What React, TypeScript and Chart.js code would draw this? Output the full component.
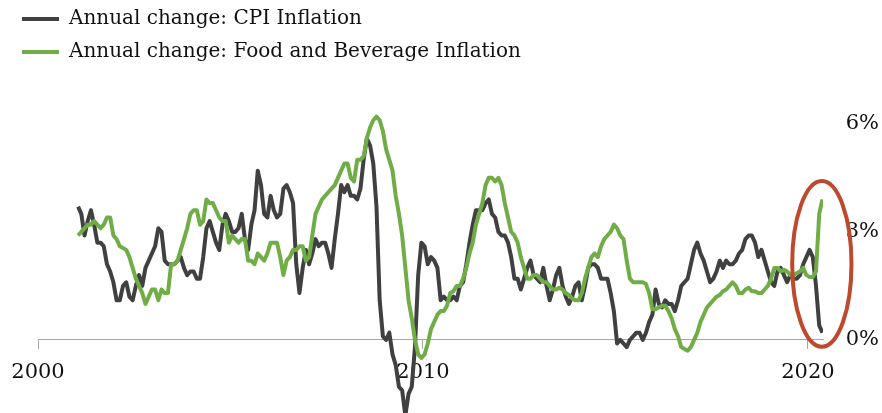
import { useEffect, useRef } from "react";
import { Chart, registerables } from "chart.js";

Chart.register(...registerables);

// Monthly series, Jan 2001 .. May 2020 (annual % change)
const START_YEAR = 2001;

const cpiInflation = [
  3.7, 3.5, 2.9, 3.3, 3.6, 3.2, 2.7, 2.7, 2.6, 2.1, 1.9, 1.6,
  1.1, 1.1, 1.5, 1.6, 1.2, 1.1, 1.5, 1.8, 1.5, 2.0, 2.2, 2.4,
  2.6, 3.1, 3.0, 2.2, 2.1, 2.1, 2.1, 2.2, 2.3, 2.0, 1.8, 1.9,
  1.9, 1.7, 1.7, 2.3, 3.1, 3.3, 3.0, 2.7, 2.5, 3.2, 3.5, 3.3,
  3.0, 3.0, 3.1, 3.5, 2.8, 2.5, 3.2, 3.6, 4.7, 4.3, 3.5, 3.4,
  4.0, 3.6, 3.4, 3.5, 4.2, 4.3, 4.1, 3.8, 2.1, 1.3, 2.0, 2.5,
  2.1, 2.4, 2.8, 2.6, 2.7, 2.7, 2.4, 2.0, 2.8, 3.5, 4.3, 4.1,
  4.3, 4.0, 4.0, 3.9, 4.2, 5.0, 5.6, 5.4, 4.9, 3.7, 1.1, 0.1,
  0.0, 0.2, -0.4, -0.7, -1.3, -1.4, -2.1, -1.5, -1.3, -0.2, 1.8, 2.7,
  2.6, 2.1, 2.3, 2.2, 2.0, 1.1, 1.2, 1.1, 1.1, 1.2, 1.1, 1.5,
  1.6, 2.1, 2.7, 3.2, 3.6, 3.6, 3.6, 3.8, 3.9, 3.5, 3.4, 3.0,
  2.9, 2.9, 2.7, 2.3, 1.7, 1.7, 1.4, 1.7, 2.0, 2.2, 1.8, 1.7,
  1.6, 2.0, 1.5, 1.1, 1.4, 1.8, 2.0, 1.5, 1.2, 1.0, 1.2, 1.5,
  1.6, 1.1, 1.5, 2.0, 2.1, 2.1, 2.0, 1.7, 1.7, 1.7, 1.3, 0.8,
  -0.1, 0.0, -0.1, -0.2, 0.0, 0.1, 0.2, 0.2, 0.0, 0.2, 0.5, 0.7,
  1.4, 1.0, 0.9, 1.1, 1.0, 1.0, 0.8, 1.1, 1.5, 1.6, 1.7, 2.1,
  2.5, 2.7, 2.4, 2.2, 1.9, 1.6, 1.7, 1.9, 2.2, 2.0, 2.2, 2.1,
  2.1, 2.2, 2.4, 2.5, 2.8, 2.9, 2.9, 2.7, 2.3, 2.5, 2.2, 1.9,
  1.6, 1.5, 1.9, 2.0, 1.8, 1.6, 1.8, 1.7, 1.7, 1.8, 2.1, 2.3,
  2.5, 2.3, 1.5, 0.4, 0.2,
];

const foodInflation = [
  2.9, 3.0, 3.1, 3.2, 3.2, 3.3, 3.2, 3.1, 3.2, 3.4, 3.4, 2.9,
  2.8, 2.6, 2.55, 2.5, 2.3, 2.0, 1.7, 1.5, 1.3, 1.0, 1.2, 1.4,
  1.4, 1.1, 1.4, 1.3, 1.3, 2.1, 2.1, 2.2, 2.5, 2.8, 3.1, 3.5,
  3.6, 3.6, 3.2, 3.3, 3.9, 3.8, 3.8, 3.6, 3.4, 3.3, 3.3, 2.7,
  2.9, 2.8, 2.7, 2.8, 2.8, 2.2, 2.2, 2.1, 2.4, 2.3, 2.2, 2.4,
  2.7, 2.7, 2.7, 2.3, 1.8, 2.2, 2.3, 2.5, 2.5, 2.6, 2.6, 2.2,
  2.3, 2.9, 3.5, 3.7, 3.9, 4.0, 4.1, 4.2, 4.3, 4.5, 4.7, 4.9,
  4.9, 4.5, 4.4, 5.0, 5.0, 5.1, 5.6, 5.9, 6.1, 6.2, 6.1, 5.8,
  5.3, 5.0, 4.7, 4.0, 3.5, 2.9, 2.0, 1.1, 0.6, 0.0, -0.4, -0.5,
  -0.4, -0.1, 0.3, 0.5, 0.7, 0.8, 0.8, 0.95, 1.3, 1.35, 1.5, 1.5,
  1.7, 2.0, 2.4, 2.7, 3.2, 3.5, 3.8, 4.3, 4.5, 4.5, 4.4, 4.5,
  4.3, 3.8, 3.4, 3.0, 2.9, 2.7, 2.3, 2.0, 1.7, 1.7, 1.8, 1.8,
  1.7, 1.6, 1.6, 1.5, 1.4, 1.4, 1.45, 1.4, 1.3, 1.25, 1.15, 1.1,
  1.1, 1.3, 1.7, 2.0, 2.3, 2.4, 2.3, 2.6, 2.8, 2.9, 3.0, 3.2,
  3.1, 2.9, 2.8, 2.2, 1.7, 1.6, 1.6, 1.6, 1.6, 1.55, 1.3, 0.85,
  0.85, 0.9, 0.95, 0.95, 0.8, 0.6, 0.3, 0.1, -0.2, -0.25, -0.3, -0.2,
  0.0, 0.2, 0.5, 0.7, 0.9, 1.0, 1.1, 1.2, 1.25, 1.35, 1.4, 1.5,
  1.6, 1.5, 1.3, 1.3, 1.4, 1.45, 1.35, 1.35, 1.3, 1.3, 1.4, 1.5,
  1.7, 2.0, 2.0, 1.9, 1.95, 1.9, 1.8, 1.8, 1.85, 1.9, 2.0, 1.8,
  1.75, 1.75, 1.9, 3.5, 3.9,
];

const seriesNames = [
  "Annual change: CPI Inflation",
  "Annual change: Food and Beverage Inflation",
];
const xTickYears = [2000, 2010, 2020];
const yTickValues = [0, 3, 6];

const X_MIN = 2000;
const X_MAX = 2020.39;
const Y_MIN = -2.03;
const Y_MAX = 7.44;

// highlight ellipse (data units)
const highlight = { x: 2020.36, y: 2.11, rx: 0.77, ry: 2.3 };

const FONT = "'DejaVu Serif', 'Liberation Serif', serif";

const toPoints = (vals: number[]) =>
  vals.map((v, i) => ({ x: START_YEAR + (i + 0.5) / 12, y: v }));

const ellipsePlugin = {
  id: "highlightEllipse",
  afterDatasetsDraw(chart: any) {
    const xs = chart.scales.x;
    const ys = chart.scales.y;
    const cx = xs.getPixelForValue(highlight.x);
    const cy = ys.getPixelForValue(highlight.y);
    const rx = Math.abs(xs.getPixelForValue(highlight.x + highlight.rx) - cx);
    const ry = Math.abs(ys.getPixelForValue(highlight.y + highlight.ry) - cy);
    const ctx = chart.ctx;
    ctx.save();
    ctx.beginPath();
    ctx.ellipse(cx, cy, rx, ry, 0, 0, Math.PI * 2);
    ctx.strokeStyle = "#BD4A2F";
    ctx.lineWidth = 4;
    ctx.stroke();
    ctx.restore();
  },
};

export default function App() {
  const canvasRef = useRef<HTMLCanvasElement | null>(null);

  useEffect(() => {
    document.body.style.margin = "0";
    const canvas = canvasRef.current;
    if (!canvas) return;
    const chart = new Chart(canvas, {
      type: "line",
      data: {
        datasets: [
          {
            label: seriesNames[0],
            data: toPoints(cpiInflation),
            borderColor: "#404040",
            backgroundColor: "#404040",
            borderWidth: 4,
            pointRadius: 0,
            tension: 0,
            fill: false,
            borderJoinStyle: "round",
            yAxisID: "y",
            order: 1,
          },
          {
            label: seriesNames[1],
            data: toPoints(foodInflation),
            borderColor: "#70AD47",
            backgroundColor: "#70AD47",
            borderWidth: 4,
            pointRadius: 0,
            tension: 0,
            fill: false,
            borderJoinStyle: "round",
            yAxisID: "y",
            order: 0,
          },
        ],
      },
      options: {
        responsive: false,
        animation: false,
        devicePixelRatio: 1,
        events: [],
        layout: { padding: { left: 9, right: 59, top: -4, bottom: 0 } },
        plugins: {
          tooltip: { enabled: false },
          legend: {
            position: "top",
            align: "start",
            labels: {
              font: { family: FONT, size: 20 },
              color: "#111",
              boxWidth: 37,
              boxHeight: 4,
              padding: 13,
              sort: (a: any, b: any) => a.datasetIndex - b.datasetIndex,
              generateLabels: (c: any) =>
                Chart.defaults.plugins.legend.labels
                  .generateLabels(c)
                  .map((l: any) => ({ ...l, fillStyle: l.strokeStyle, lineWidth: 0 })),
            },
          },
        },
        scales: {
          x: {
            type: "linear",
            min: X_MIN,
            max: X_MAX,
            position: { y: 0 },
            afterBuildTicks: (s: any) => {
              s.ticks = xTickYears.map((v) => ({ value: v }));
            },
            afterFit: (s: any) => {
              s.height = 0;
              s.paddingLeft = 0;
              s.paddingRight = 0;
              s.paddingTop = 0;
              s.paddingBottom = 0;
            },
            grid: {
              display: true,
              drawOnChartArea: false,
              drawTicks: true,
              tickLength: 9,
              color: "#a6a6a6",
              lineWidth: 1,
            },
            border: { display: true, color: "#a6a6a6", width: 1 },
            ticks: {
              callback: (v: any) => String(v),
              font: { family: FONT, size: 21 },
              color: "#111",
              padding: 11,
              maxRotation: 0,
              autoSkip: false,
            },
          },
          y: {
            type: "linear",
            position: "right",
            min: Y_MIN,
            max: Y_MAX,
            afterBuildTicks: (s: any) => {
              s.ticks = yTickValues.map((v) => ({ value: v }));
            },
            afterFit: (s: any) => {
              s.width = 0;
              s.paddingTop = 0;
              s.paddingBottom = 0;
            },
            grid: { display: false, drawTicks: false },
            border: { display: false },
            ticks: {
              callback: (v: any) => v + "%",
              font: { family: FONT, size: 21 },
              color: "#111",
              mirror: true,
              padding: 56,
            },
          },
          yPad: {
            type: "linear",
            position: "left",
            display: true,
            grid: { display: false, drawTicks: false },
            border: { display: false },
            ticks: { display: false },
            afterFit: (s: any) => {
              s.width = 29;
              s.paddingTop = 0;
              s.paddingBottom = 0;
            },
          },
        },
      },
      plugins: [ellipsePlugin],
    } as any);
    return () => chart.destroy();
  }, []);

  return (
    <div style={{ width: 882, height: 413 }}>
      <canvas ref={canvasRef} width={882} height={413} style={{ display: "block" }} />
    </div>
  );
}
